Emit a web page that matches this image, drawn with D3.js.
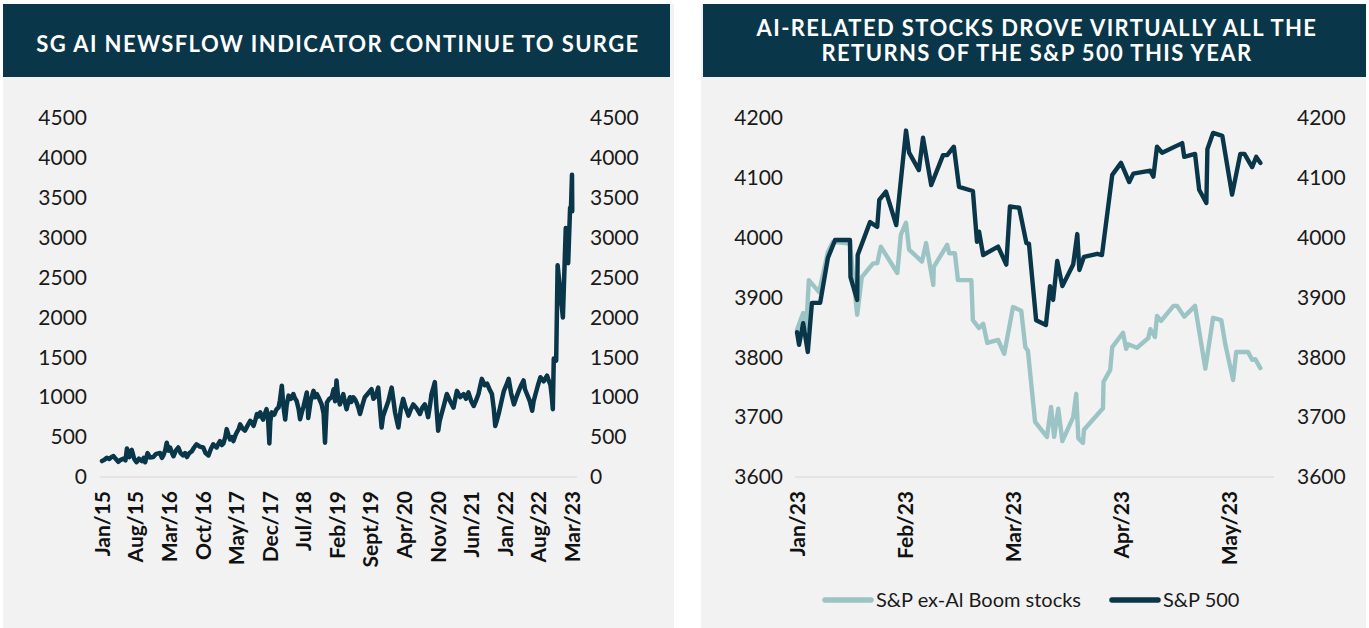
<!DOCTYPE html>
<html>
<head>
<meta charset="utf-8">
<script src="https://cdn.jsdelivr.net/npm/d3@7/dist/d3.min.js"></script>
<style>
html,body{margin:0;padding:0;background:#ffffff;}
svg{display:block;font-family:"Lato","Open Sans",sans-serif;}
</style>
</head>
<body>
<svg id="chart" width="1369" height="628"></svg>
<script>
// ---------- DATA ----------
const leftTitle = "SG AI NEWSFLOW INDICATOR CONTINUE TO SURGE";
const rightTitle = ["AI-RELATED STOCKS DROVE VIRTUALLY ALL THE", "RETURNS OF THE S&P 500 THIS YEAR"];

// months since Jan 2015, newsflow indicator value
const newsflow = [
 [0,200],[0.5,215],[1.0,240],[1.5,225],[2.0,250],[2.4,262],[2.9,225],[3.4,190],[3.9,215],[4.5,230],[4.9,210],
 [5.2,356],[5.5,280],[5.7,250],[6.0,330],[6.2,340],[6.7,230],[7.2,185],[7.7,230],[8.3,200],[8.7,240],[9.0,185],
 [9.5,300],[10.0,245],[10.7,250],[11.3,290],[12.1,300],[12.5,240],[12.8,270],[13.2,340],[13.5,430],[13.9,330],
 [14.2,370],[14.6,300],[14.9,260],[15.4,330],[15.9,370],[16.4,300],[16.9,270],[17.3,300],[17.7,250],[18.2,300],
 [18.7,320],[19.2,370],[19.7,410],[20.4,380],[21.1,370],[21.6,300],[22.2,270],[22.7,350],[23.2,410],[23.5,390],
 [23.9,370],[24.3,420],[24.6,450],[25.0,400],[25.3,420],[25.7,500],[26.0,600],[26.4,520],[26.7,470],[27.1,500],
 [27.4,450],[27.8,520],[28.1,560],[28.5,600],[28.8,660],[29.3,610],[29.8,580],[30.4,650],[30.9,705],[31.3,680],
 [31.6,640],[32.0,720],[32.3,790],[32.7,760],[33.0,810],[33.3,750],[33.6,720],[34.0,800],[34.3,850],[34.6,760],
 [34.9,420],[35.1,700],[35.4,810],[35.9,780],[36.4,850],[36.8,870],[37.1,960],[37.5,1145],[37.8,900],[38.2,720],
 [38.5,900],[38.9,1020],[39.4,980],[39.9,1040],[40.2,990],[40.6,950],[41.0,850],[41.3,725],[41.7,820],[42.0,880],
 [42.4,980],[42.7,1060],[42.9,900],[43.0,740],[43.5,950],[44.1,1080],[44.4,1000],[44.8,1040],[45.3,980],[45.8,910],
 [46.2,800],[46.5,430],[46.7,700],[46.9,935],[47.4,980],[47.9,1000],[48.3,1100],[48.6,950],[48.9,1210],[49.2,1020],
 [49.6,910],[50.0,980],[50.3,1040],[50.6,950],[51.0,850],[51.4,950],[51.7,1000],[52.0,940],[52.4,1000],[52.8,970],
 [53.1,930],[53.5,860],[53.8,790],[54.3,900],[54.8,1000],[55.5,1050],[56.2,1100],[56.6,980],[56.9,1000],[57.3,1060],
 [57.6,1120],[57.9,900],[58.3,620],[58.6,760],[59.0,830],[59.4,900],[59.7,950],[60.1,1050],[60.4,1120],[60.8,950],
 [61.1,810],[61.5,700],[61.8,620],[62.3,850],[62.8,980],[63.3,870],[63.9,770],[64.4,850],[64.9,910],[65.6,860],
 [66.3,790],[66.8,870],[67.3,910],[67.7,830],[68.0,750],[68.4,900],[68.7,1040],[69.0,1100],[69.4,1190],[69.7,900],
 [70.1,580],[70.4,700],[70.8,790],[71.3,900],[71.9,1040],[72.6,950],[73.3,870],[73.7,990],[74.0,1080],[74.7,1000],
 [75.4,1040],[75.9,980],[76.4,1060],[77.0,950],[77.5,890],[78.0,960],[78.5,1040],[78.9,1150],[79.2,1230],[79.8,1150],
 [80.3,1170],[80.8,1100],[81.3,1040],[81.7,850],[82.0,640],[82.3,700],[82.7,790],[83.3,950],[83.8,1080],[84.3,1150],
 [84.8,1230],[85.3,1050],[85.9,910],[86.4,1000],[86.9,1080],[87.4,1150],[87.9,1210],[88.2,1100],[88.6,1040],[89.2,950],
 [89.7,830],[90.0,950],[90.4,1040],[90.9,1150],[91.4,1250],[92.1,1200],[92.8,1270],[93.2,1200],[93.5,1160],[93.8,1000],
 [94.0,850],[94.2,1485],[94.7,1460],[95.0,2655],[95.6,2300],[96.1,2000],[96.7,3120],[97.2,2680],[97.6,3370],[97.8,3400],
 [98.0,3790],[98.05,3330]
];
const leftTickMonths = [0,7,14,21,28,35,42,49,56,63,70,77,84,91,98];
const leftTickLabels = ["Jan/15","Aug/15","Mar/16","Oct/16","May/17","Dec/17","Jul/18","Feb/19","Sept/19","Apr/20","Nov/20","Jun/21","Jan/22","Aug/22","Mar/23"];
const leftYTicks = [0,500,1000,1500,2000,2500,3000,3500,4000,4500];

// trading-day index (0 = start of Jan 2023), index level
const sp500 = [
 [0,3842],[0.4,3821],[1.2,3857],[2.1,3809],[2.9,3891],[4.5,3891],[6.0,3966],[7.4,3996],[10.3,3996],[10.4,3934],
 [11.7,3896],[11.8,3971],[14.2,4026],[15.6,4018],[16.0,4063],[17.3,4077],[19.3,4021],[21.2,4179],[21.8,4142],
 [23.7,4113],[24.5,4167],[26.1,4088],[28.4,4138],[29.2,4138],[30.5,4152],[31.5,4085],[34.2,4078],[35.0,3993],
 [35.4,4010],[36.2,3971],[39.1,3985],[40.7,3955],[41.4,4052],[43.2,4050],[44.6,3991],[45.1,3990],[46.5,3862],
 [48.4,3854],[49.2,3919],[49.8,3896],[50.6,3961],[51.6,3919],[53.7,3955],[54.5,4006],[54.9,3946],[55.8,3968],
 [58.4,3973],[59.3,3971],[61.3,4105],[63.0,4125],[64.6,4093],[65.4,4107],[68.7,4112],[69.3,4102],[70.0,4152],
 [71.0,4142],[74.9,4158],[75.3,4135],[77.4,4140],[78.2,4080],[79.6,4058],[79.8,4148],[80.9,4175],[82.7,4170],
 [84.6,4072],[86.2,4140],[87.0,4140],[88.5,4118],[89.3,4135],[90.1,4125]
];
const exAiBoom = [
 [0,3846],[1.2,3874],[1.8,3849],[2.3,3929],[4.3,3909],[6.0,3976],[7.0,3993],[10.3,3990],[11.7,3871],[12.6,3934],
 [14.8,3957],[15.6,3957],[16.3,3985],[19.5,3941],[20.2,4005],[21.2,4025],[21.8,3980],[24.3,3960],[25.1,3991],
 [26.5,3921],[26.6,3951],[29.2,3988],[29.6,3974],[30.7,3974],[31.3,3929],[33.9,3929],[34.2,3862],[35.4,3849],
 [36.2,3856],[37.0,3824],[39.1,3829],[40.3,3806],[42.0,3884],[43.6,3878],[44.4,3817],[44.9,3811],[46.3,3692],
 [48.6,3667],[49.4,3717],[50.0,3667],[50.8,3714],[51.6,3660],[53.7,3700],[54.3,3739],[54.7,3665],[55.6,3657],
 [55.8,3679],[59.5,3715],[59.6,3759],[60.9,3779],[61.3,3817],[63.4,3841],[64.0,3814],[64.4,3822],[66.1,3816],
 [68.3,3832],[68.7,3847],[69.6,3834],[70.0,3869],[70.8,3861],[73.2,3886],[73.9,3886],[75.3,3868],[77.4,3886],
 [79.4,3781],[80.9,3866],[82.5,3862],[83.3,3821],[84.8,3762],[85.4,3809],[87.7,3809],[88.5,3796],[89.1,3797],
 [90.1,3782]
];
const rightTickDays = [0,21,42,63,84];
const rightTickLabels = ["Jan/23","Feb/23","Mar/23","Apr/23","May/23"];
const rightYTicks = [3600,3700,3800,3900,4000,4100,4200];
const legendLabels = ["S&P ex-Al Boom stocks","S&P 500"];

// ---------- STYLE ----------
const DARK = "#0a3649";
const LIGHT = "#9dc4c5";
const PANEL = "#f2f2f2";

const svg = d3.select("#chart");

// panels
svg.append("rect").attr("x",3).attr("y",4).attr("width",671).attr("height",624).attr("fill",PANEL);
svg.append("rect").attr("x",701).attr("y",4).attr("width",665).attr("height",624).attr("fill",PANEL);
svg.append("rect").attr("x",3).attr("y",4).attr("width",667).attr("height",73).attr("fill",DARK);
svg.append("rect").attr("x",703).attr("y",4).attr("width",663).attr("height",73).attr("fill",DARK);

function titleText(x,y,t){
  svg.append("text").attr("x",x).attr("y",y).attr("text-anchor","middle")
    .attr("fill","#ffffff").attr("font-size",22).attr("font-weight",700)
    .attr("letter-spacing","1.4px").text(t);
}
titleText(338,52,leftTitle);
titleText(1037,36,rightTitle[0]);
titleText(1037,61,rightTitle[1]);

function styleYAxis(g){
  g.select(".domain").remove();
  g.selectAll("text").attr("font-size",21).attr("fill","#1a1a1a").attr("font-family","Lato, sans-serif");
}
function styleXAxis(g){
  g.select(".domain").remove();
  g.selectAll("line").remove();
  g.selectAll("text").attr("font-size",21).attr("font-weight",700).attr("fill","#111")
    .attr("font-family","Lato, sans-serif")
    .attr("transform","rotate(-90)").attr("text-anchor","end")
    .attr("x",-14).attr("y",0).attr("dy","0.35em");
}

// ---------- LEFT CHART ----------
const xL = d3.scaleLinear().domain([0,98]).range([102,572]);
const yL = d3.scaleLinear().domain([0,4500]).range([477,118]);

svg.append("line").attr("x1",100).attr("x2",577).attr("y1",yL(0)).attr("y2",yL(0))
  .attr("stroke","#d6d6d6").attr("stroke-width",1.2);

svg.append("g").attr("transform","translate(87,0)")
  .call(d3.axisLeft(yL).tickValues(leftYTicks).tickSize(0).tickPadding(0).tickFormat(d3.format("d")))
  .call(styleYAxis);
svg.append("g").attr("transform","translate(590,0)")
  .call(d3.axisRight(yL).tickValues(leftYTicks).tickSize(0).tickPadding(0).tickFormat(d3.format("d")))
  .call(styleYAxis);
svg.append("g").attr("transform",`translate(0,${yL(0)})`)
  .call(d3.axisBottom(xL).tickValues(leftTickMonths).tickFormat((d,i)=>leftTickLabels[i]))
  .call(styleXAxis);

svg.append("path").datum(newsflow)
  .attr("fill","none").attr("stroke",DARK).attr("stroke-width",4.5)
  .attr("stroke-linejoin","round").attr("stroke-linecap","round")
  .attr("d",d3.line().x(d=>xL(d[0])).y(d=>yL(d[1])));

// ---------- RIGHT CHART ----------
const xR = d3.scaleLinear().domain([0,84]).range([797,1229]);
const yR = d3.scaleLinear().domain([3600,4200]).range([477,118]);

svg.append("line").attr("x1",795).attr("x2",1274).attr("y1",yR(3600)).attr("y2",yR(3600))
  .attr("stroke","#d6d6d6").attr("stroke-width",1.2);

svg.append("g").attr("transform","translate(783,0)")
  .call(d3.axisLeft(yR).tickValues(rightYTicks).tickSize(0).tickPadding(0).tickFormat(d3.format("d")))
  .call(styleYAxis);
svg.append("g").attr("transform","translate(1297,0)")
  .call(d3.axisRight(yR).tickValues(rightYTicks).tickSize(0).tickPadding(0).tickFormat(d3.format("d")))
  .call(styleYAxis);
svg.append("g").attr("transform",`translate(0,${yR(3600)})`)
  .call(d3.axisBottom(xR).tickValues(rightTickDays).tickFormat((d,i)=>rightTickLabels[i]))
  .call(styleXAxis);

const lineR = d3.line().x(d=>xR(d[0])).y(d=>yR(d[1]));
svg.append("path").datum(exAiBoom)
  .attr("fill","none").attr("stroke",LIGHT).attr("stroke-width",4.4)
  .attr("stroke-linejoin","round").attr("stroke-linecap","round").attr("d",lineR);
svg.append("path").datum(sp500)
  .attr("fill","none").attr("stroke",DARK).attr("stroke-width",4.4)
  .attr("stroke-linejoin","round").attr("stroke-linecap","round").attr("d",lineR);

// legend
const legend = [
  {label:legendLabels[0], color:LIGHT, x:825},
  {label:legendLabels[1], color:DARK, x:1112}
];
legend.forEach(l=>{
  svg.append("line").attr("x1",l.x).attr("x2",l.x+46).attr("y1",600).attr("y2",600)
    .attr("stroke",l.color).attr("stroke-width",5.5).attr("stroke-linecap","round");
  svg.append("text").attr("x",l.x+51).attr("y",607).attr("font-size",20).attr("fill","#1a1a1a")
    .text(l.label);
});
</script>
</body>
</html>
